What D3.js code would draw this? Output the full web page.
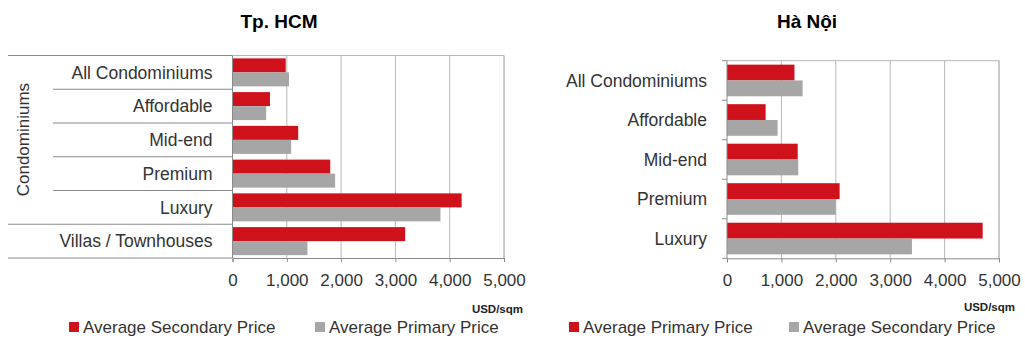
<!DOCTYPE html>
<html>
<head>
<meta charset="utf-8">
<script src="https://cdn.jsdelivr.net/npm/d3@7"></script>
<style>
  body { margin: 0; background: #fff; }
  svg { display: block; font-family: 'Liberation Sans', Arial, sans-serif; }
</style>
</head>
<body>
<div id="chart"></div>
<script>
// Tp. HCM
const hcmCategories = ['All Condominiums', 'Affordable', 'Mid-end', 'Premium', 'Luxury', 'Villas / Townhouses'];
const hcmSecondary = [980, 690, 1210, 1800, 4220, 3180];
const hcmPrimary = [1040, 620, 1080, 1890, 3830, 1380];

// Ha Noi
const hnCategories = ['All Condominiums', 'Affordable', 'Mid-end', 'Premium', 'Luxury'];
const hnPrimary = [1240, 710, 1300, 2070, 4700];
const hnSecondary = [1390, 930, 1310, 2000, 3400];

const xTicks = [0, 1000, 2000, 3000, 4000, 5000];

const width = 1025;
const height = 347;
const red = '#cf111c';
const gray = '#a6a6a6';
const gridColor = '#b8b8b8';
const axisColor = '#8a8a8a';
const textColor = '#333';

const svg = d3.select('#chart')
    .append('svg')
    .attr('width', width)
    .attr('height', height);

function drawChart(opts) {
    const g = svg.append('g');

    const xScale = d3.scaleLinear().domain([0, 5000]).range([opts.x0, opts.x1]);
    const yScale = d3.scaleBand().domain(opts.categories)
        .range([opts.y0, opts.y1])
        .paddingInner(opts.pad)
        .paddingOuter(opts.pad / 2);
    const sub = d3.scaleBand().domain([0, 1]).range([0, yScale.bandwidth()]);

    // plot frame (top + right)
    g.append('path')
        .attr('d', `M${opts.x0},${opts.y0}H${opts.x1}V${opts.y1}`)
        .attr('fill', 'none')
        .attr('stroke', gridColor);

    // vertical grid
    g.selectAll('.grid')
        .data(xTicks.slice(1))
        .enter()
        .append('line')
        .attr('x1', (d) => xScale(d))
        .attr('x2', (d) => xScale(d))
        .attr('y1', opts.y0)
        .attr('y2', opts.y1)
        .attr('stroke', gridColor);

    // bars
    const series = [opts.first, opts.second];
    const colors = [red, gray];
    series.forEach((vals, si) => {
        g.selectAll('.bar' + si)
            .data(vals)
            .enter()
            .append('rect')
            .attr('x', xScale(0))
            .attr('y', (d, i) => yScale(opts.categories[i]) + sub(si))
            .attr('width', (d) => xScale(d) - xScale(0))
            .attr('height', sub.bandwidth())
            .attr('fill', colors[si]);
    });

    // x axis
    const xAxis = d3.axisBottom(xScale)
        .tickValues(xTicks)
        .tickFormat(d3.format(','))
        .tickSize(4)
        .tickPadding(12);
    const xg = g.append('g')
        .attr('transform', `translate(0, ${opts.y1})`)
        .call(xAxis);
    xg.select('.domain').attr('stroke', axisColor);
    xg.selectAll('.tick line').attr('stroke', axisColor);
    xg.selectAll('.tick text')
        .attr('fill', textColor)
        .style('font-size', '17px')
        .style('font-family', "'Liberation Sans', Arial, sans-serif");

    // y axis line
    g.append('line')
        .attr('x1', opts.x0).attr('x2', opts.x0)
        .attr('y1', opts.y0).attr('y2', opts.y1)
        .attr('stroke', axisColor);

    // category boundaries
    const bounds = opts.categories.map((c) => yScale(c) - yScale.step() * yScale.paddingInner() / 2);
    bounds.push(opts.y1);
    g.selectAll('.sep')
        .data(bounds)
        .enter()
        .append('line')
        .attr('x1', (d, i) => opts.sepStart(i))
        .attr('x2', opts.x0)
        .attr('y1', (d) => d)
        .attr('y2', (d) => d)
        .attr('stroke', opts.sepColor);

    // category labels
    g.selectAll('.cat')
        .data(opts.categories)
        .enter()
        .append('text')
        .attr('x', opts.x0 - 20)
        .attr('y', (d) => yScale(d) + yScale.bandwidth() / 2)
        .attr('dy', '0.35em')
        .attr('text-anchor', 'end')
        .attr('fill', textColor)
        .style('font-size', '17.5px')
        .text((d) => d);

    // title
    g.append('text')
        .attr('x', opts.titleX)
        .attr('y', 28)
        .attr('text-anchor', 'middle')
        .style('font-size', '19px')
        .style('font-weight', 'bold')
        .text(opts.title);

    // unit
    g.append('text')
        .attr('x', opts.unitX)
        .attr('y', opts.unitY)
        .attr('text-anchor', 'end')
        .style('font-size', '11.5px')
        .style('font-weight', 'bold')
        .attr('fill', '#222')
        .text('USD/sqm');

    // legend
    opts.legend.forEach((item, i) => {
        g.append('rect')
            .attr('x', item.x)
            .attr('y', 322)
            .attr('width', 10)
            .attr('height', 10)
            .attr('fill', colors[i]);
        g.append('text')
            .attr('x', item.x + 14)
            .attr('y', 333)
            .attr('fill', textColor)
            .style('font-size', '17px')
            .text(item.label);
    });

    return { g, yScale };
}

const left = drawChart({
    categories: hcmCategories,
    first: hcmSecondary,
    second: hcmPrimary,
    x0: 232.5, x1: 504,
    y0: 55.5, y1: 258,
    pad: 0.17,
    sepStart: (i) => (i === 0 || i >= 5) ? 8 : 53,
    sepColor: '#8a8a8a',
    title: 'Tp. HCM',
    titleX: 279,
    unitX: 523, unitY: 313,
    legend: [
        { x: 69, label: 'Average Secondary Price' },
        { x: 315, label: 'Average Primary Price' }
    ]
});

// group label for condominiums
left.g.append('text')
    .attr('transform', `translate(29, ${(55.5 + left.yScale('Luxury') + left.yScale.step() * 0.9) / 2}) rotate(-90)`)
    .attr('text-anchor', 'middle')
    .attr('fill', textColor)
    .style('font-size', '17px')
    .text('Condominiums');

drawChart({
    categories: hnCategories,
    first: hnPrimary,
    second: hnSecondary,
    x0: 727, x1: 999,
    y0: 60.7, y1: 258.3,
    pad: 0.2,
    sepStart: () => 722,
    sepColor: axisColor,
    title: 'Hà Nội',
    titleX: 807,
    unitX: 1015, unitY: 311,
    legend: [
        { x: 569, label: 'Average Primary Price' },
        { x: 789, label: 'Average Secondary Price' }
    ]
});
</script>
</body>
</html>
